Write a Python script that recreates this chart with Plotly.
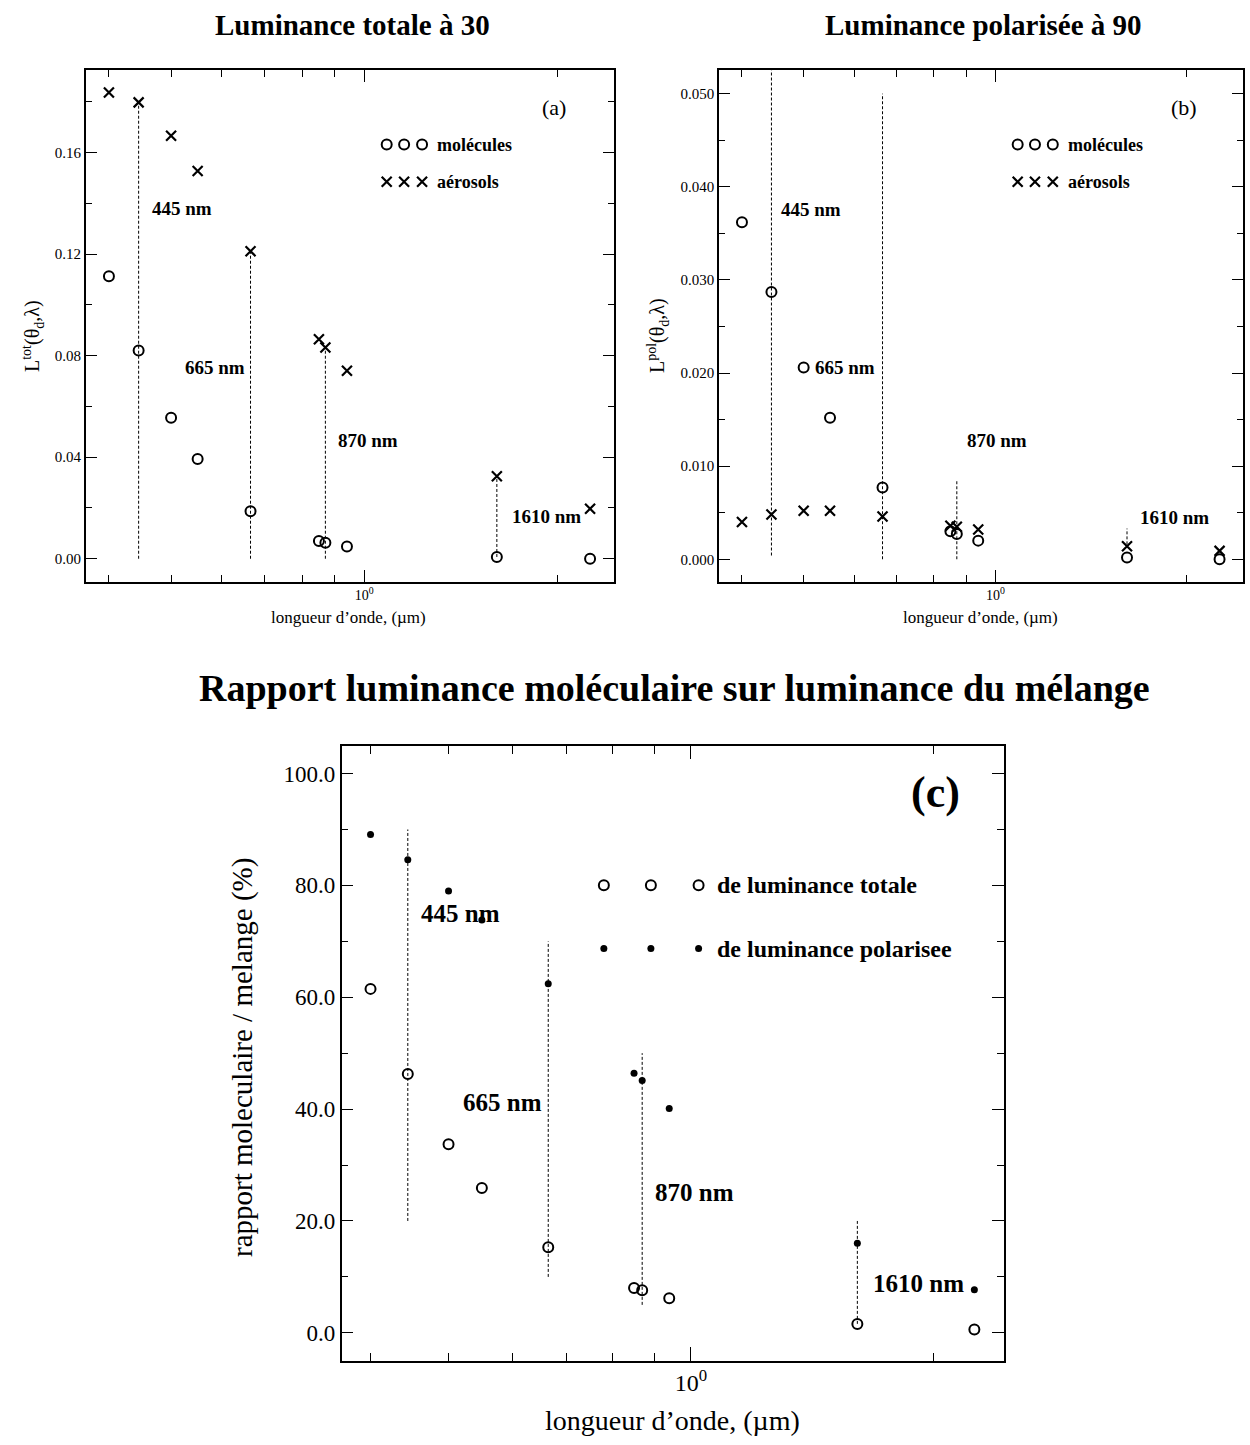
import numpy as np
import plotly.graph_objects as go

# Wavelengths of the simulated channels (µm)
wavelength = [0.40, 0.445, 0.50, 0.55, 0.665, 0.85, 0.87, 0.94, 1.61, 2.25]

# (a) total radiance at 30°
tot_molecules = [0.1112, 0.0820, 0.0555, 0.0393, 0.0187, 0.0070, 0.0063, 0.0048, 0.0007, 0.0000]
tot_aerosols = [0.1836, 0.1797, 0.1666, 0.1527, 0.1211, 0.0864, 0.0832, 0.0740, 0.0325, 0.0197]

# (b) polarized radiance at 90°
pol_molecules = [0.0362, 0.0287, 0.0206, 0.0152, 0.0077, 0.0030, 0.0027, 0.0020, 0.0002, 0.0000]
pol_aerosols = [0.0040, 0.0048, 0.0052, 0.0052, 0.0046, 0.0036, 0.0035, 0.0032, 0.0014, 0.0009]

# (c) molecular / mixture ratio (%)
ratio_total = [61.5, 46.3, 33.7, 25.9, 15.3, 8.0, 7.6, 6.2, 1.6, 0.6]
ratio_pol = [89.1, 84.6, 79.0, 73.8, 62.4, 46.4, 45.1, 40.1, 16.0, 7.7]

# Reference bands (dashed markers)
band_labels = ["445 nm", "665 nm", "870 nm", "1610 nm"]
band_wavelength = [0.445, 0.665, 0.870, 1.610]
band_a_low = [0.0, 0.0, 0.0, 0.0007]
band_a_high = [0.1797, 0.1211, 0.0832, 0.0325]
band_b_low = [0.0004, 0.0, 0.0, 0.0016]
band_b_high = [0.0530, 0.0500, 0.0085, 0.0033]
band_c_low = [20.0, 10.0, 5.0, 1.6]
band_c_high = [90.0, 70.0, 50.0, 20.0]

# x ticks: labelled decade and unlabelled sub-decade ticks
x_major_vals = [1]
x_major_text = ["10<sup>0</sup>"]
x_minor_vals = [0.4, 0.5, 0.6, 0.7, 0.8, 0.9, 2, 3]

W, H = 1250, 1445
SERIF = "Liberation Serif"
X_RANGE = [-0.434, 0.389]


def px(x):
    return x / W


def py(y):
    return 1 - y / H


def x_axis(domain, anchor, tick_size, tick_len):
    return dict(
        type="log", range=X_RANGE, domain=domain, anchor=anchor,
        showline=True, linecolor="black", linewidth=1.5, mirror="ticks",
        showgrid=False, zeroline=False,
        tickmode="array", tickvals=x_major_vals, ticktext=x_major_text,
        ticks="inside", ticklen=tick_len, tickwidth=1.3, tickcolor="black",
        tickfont=dict(family=SERIF, size=tick_size, color="black"),
    )


def sub_tick_axis(base, anchor, tick_len):
    # unlabelled sub-decade ticks, drawn on an overlay axis sharing the frame
    return dict(
        type="log", range=X_RANGE, overlaying=base, anchor=anchor,
        showline=False, mirror="ticks", showgrid=False, zeroline=False,
        tickmode="array", tickvals=x_minor_vals, showticklabels=False,
        ticks="inside", ticklen=tick_len, tickwidth=1.2, tickcolor="black",
        fixedrange=True,
    )


def y_axis(domain, anchor, rng, dtick, fmt, tick_size, major_len, minor_len):
    return dict(
        range=rng, domain=domain, anchor=anchor,
        showline=True, linecolor="black", linewidth=1.5, mirror="ticks",
        showgrid=False, zeroline=False,
        tick0=0, dtick=dtick, tickformat=fmt,
        ticks="inside", ticklen=major_len, tickwidth=1.3, tickcolor="black",
        tickfont=dict(family=SERIF, size=tick_size, color="black"),
        minor=dict(tick0=0, dtick=dtick / 2, ticks="inside",
                   ticklen=minor_len, tickwidth=1.2, tickcolor="black"),
    )


def overlay_axis(base):
    return dict(overlaying=base, range=[0, 1], visible=False, fixedrange=True)


fig = go.Figure()

dash_line = dict(color="black", width=1, dash="3px,2px")
open_circle = dict(symbol="circle-open", size=10, color="black", line=dict(width=2, color="black"))
cross = dict(symbol="x-thin-open", size=10, color="black", line=dict(width=2.2, color="black"))
dot = dict(symbol="circle", size=7, color="black")


def add_bands(xa, ya, lows, highs):
    for w, lo, hi in zip(band_wavelength, lows, highs):
        fig.add_trace(go.Scatter(x=[w, w], y=[lo, hi], mode="lines", line=dash_line,
                                 xaxis=xa, yaxis=ya, hoverinfo="skip"))


# Panel (a)
add_bands("x", "y", band_a_low, band_a_high)
fig.add_trace(go.Scatter(x=wavelength, y=tot_aerosols, mode="markers", marker=cross, xaxis="x", yaxis="y"))
fig.add_trace(go.Scatter(x=wavelength, y=tot_molecules, mode="markers", marker=open_circle, xaxis="x", yaxis="y"))

# Panel (b)
add_bands("x2", "y2", band_b_low, band_b_high)
fig.add_trace(go.Scatter(x=wavelength, y=pol_aerosols, mode="markers", marker=cross, xaxis="x2", yaxis="y2"))
fig.add_trace(go.Scatter(x=wavelength, y=pol_molecules, mode="markers", marker=open_circle, xaxis="x2", yaxis="y2"))

# Panel (c)
add_bands("x3", "y3", band_c_low, band_c_high)
fig.add_trace(go.Scatter(x=wavelength, y=ratio_pol, mode="markers", marker=dot, xaxis="x3", yaxis="y3"))
fig.add_trace(go.Scatter(x=wavelength, y=ratio_total, mode="markers", marker=open_circle, xaxis="x3", yaxis="y3"))

# Hand-made legends drawn on invisible overlay axes (0..1 in each frame)
legend_ab_x = [0.570, 0.603, 0.637]
fig.add_trace(go.Scatter(x=legend_ab_x, y=[0.855] * 3, mode="markers", marker=open_circle, xaxis="x4", yaxis="y4"))
fig.add_trace(go.Scatter(x=legend_ab_x, y=[0.782] * 3, mode="markers", marker=cross, xaxis="x4", yaxis="y4"))
fig.add_trace(go.Scatter(x=legend_ab_x, y=[0.855] * 3, mode="markers", marker=open_circle, xaxis="x5", yaxis="y5"))
fig.add_trace(go.Scatter(x=legend_ab_x, y=[0.782] * 3, mode="markers", marker=cross, xaxis="x5", yaxis="y5"))
legend_c_x = [0.396, 0.467, 0.539]
fig.add_trace(go.Scatter(x=legend_c_x, y=[0.773] * 3, mode="markers", marker=open_circle, xaxis="x6", yaxis="y6"))
fig.add_trace(go.Scatter(x=legend_c_x, y=[0.670] * 3, mode="markers", marker=dot, xaxis="x6", yaxis="y6"))

# Invisible traces so the sub-decade tick axes are drawn
for xa, ya in (("x7", "y"), ("x8", "y2"), ("x9", "y3")):
    fig.add_trace(go.Scatter(x=[1], y=[0], mode="markers", marker=dict(opacity=0),
                             xaxis=xa, yaxis=ya, hoverinfo="skip"))

dom_top_y = [py(581.6), py(70.4)]
dom_a_x = [px(85.8), px(613.7)]
dom_b_x = [px(719.0), px(1243.0)]
dom_c_x = [px(341.5), px(1004.0)]
dom_c_y = [py(1360.8), py(745.6)]

fig.update_layout(
    xaxis=x_axis(dom_a_x, "y", 14, 12),
    yaxis=y_axis(dom_top_y, "x", [-0.0090, 0.1923], 0.04, ".2f", 15, 11, 6),
    xaxis2=x_axis(dom_b_x, "y2", 14, 12),
    yaxis2=y_axis(dom_top_y, "x2", [-0.0024, 0.0525], 0.01, ".3f", 15, 11, 6),
    xaxis3=x_axis(dom_c_x, "y3", 24, 14),
    yaxis3=y_axis(dom_c_y, "x3", [-5.0, 105.0], 20, ".1f", 23, 12, 7),
    xaxis4=overlay_axis("x"), yaxis4=overlay_axis("y"),
    xaxis5=overlay_axis("x2"), yaxis5=overlay_axis("y2"),
    xaxis6=overlay_axis("x3"), yaxis6=overlay_axis("y3"),
    xaxis7=sub_tick_axis("x", "y", 7),
    xaxis8=sub_tick_axis("x2", "y2", 7),
    xaxis9=sub_tick_axis("x3", "y3", 8),
)

annotations = []


def text(x, y, s, size, xref="paper", yref="paper", bold=False, xanchor="center", angle=0):
    annotations.append(dict(
        x=x, y=y, xref=xref, yref=yref, text=f"<b>{s}</b>" if bold else s,
        showarrow=False, xanchor=xanchor, yanchor="middle", textangle=angle,
        font=dict(family=SERIF, size=size, color="black"),
    ))


# Titles
text(px(352), py(25), "Luminance totale à 30", 29, bold=True)
text(px(983), py(25), "Luminance polarisée à 90", 29, bold=True)
text(px(674), py(688), "Rapport luminance moléculaire sur luminance du mélange", 38, bold=True)

# Axis titles
text(px(348), py(617), "longueur d’onde, (µm)", 17)
text(px(980), py(617), "longueur d’onde, (µm)", 17)
text(px(672), py(1420), "longueur d’onde, (µm)", 28)
text(px(33), py(336), "L<sup>tot</sup>(θ<sub>d</sub>,λ)", 20, angle=-90)
text(px(658), py(336), "L<sup>pol</sup>(θ<sub>d</sub>,λ)", 20, angle=-90)
text(px(242), py(1058), "rapport moleculaire / melange (%)", 29, angle=-90)

# Panel letters
text(np.log10(1.977), 0.1775, "(a)", 22, xref="x", yref="y")
text(np.log10(1.977), 0.0485, "(b)", 22, xref="x2", yref="y2")
text(np.log10(2.015), 96.6, "(c)", 44, xref="x3", yref="y3", bold=True)

# Band labels
label_a = [(0.463, 0.1381), (0.522, 0.0752), (0.905, 0.0464), (1.687, 0.0165)]
label_b = [(0.458, 0.0376), (0.5165, 0.0206), (0.896, 0.0128), (1.677, 0.0045)]
label_c = [(0.4594, 75.0), (0.5174, 41.1), (0.898, 25.15), (1.675, 8.8)]
for name, (xa, ya) in zip(band_labels, label_a):
    text(np.log10(xa), ya, name, 19, xref="x", yref="y", bold=True, xanchor="left")
for name, (xb, yb) in zip(band_labels, label_b):
    text(np.log10(xb), yb, name, 19, xref="x2", yref="y2", bold=True, xanchor="left")
for name, (xc, yc) in zip(band_labels, label_c):
    text(np.log10(xc), yc, name, 25, xref="x3", yref="y3", bold=True, xanchor="left")

# Legend texts
for xr, yr in (("x4", "y4"), ("x5", "y5")):
    text(0.662, 0.855, "molécules", 18, xref=xr, yref=yr, bold=True, xanchor="left")
    text(0.662, 0.782, "aérosols", 18, xref=xr, yref=yr, bold=True, xanchor="left")
text(0.564, 0.773, "de luminance totale", 24, xref="x6", yref="y6", bold=True, xanchor="left")
text(0.564, 0.670, "de luminance polarisee", 24, xref="x6", yref="y6", bold=True, xanchor="left")

fig.update_layout(
    width=W, height=H, margin=dict(l=0, r=0, t=0, b=0),
    paper_bgcolor="white", plot_bgcolor="white",
    showlegend=False, annotations=annotations,
    font=dict(family=SERIF, color="black"),
)

fig.write_html("out.html")
